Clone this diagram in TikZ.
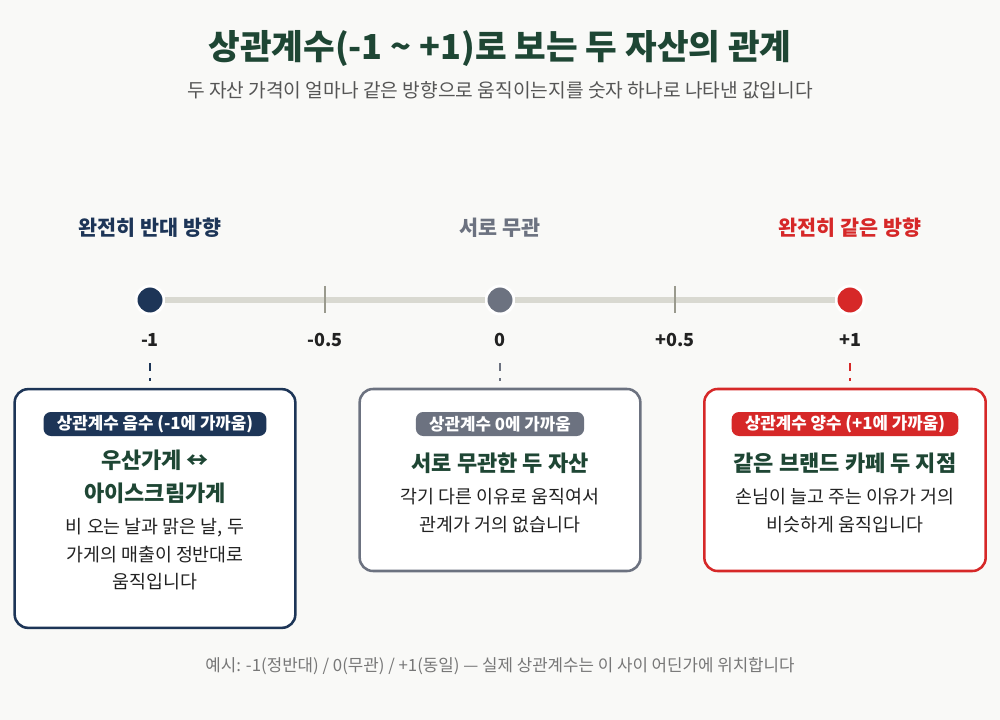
\documentclass[tikz,border=0pt]{standalone}
\usepackage{fontspec}
\setmainfont{Noto Sans CJK KR}
\usetikzlibrary{positioning}

\definecolor{pagebg}{HTML}{F9F9F7}
\definecolor{titlegreen}{HTML}{1E4634}
\definecolor{navy}{HTML}{1D3557}
\definecolor{slate}{HTML}{6C7280}
\definecolor{crimson}{HTML}{D62828}
\definecolor{axisgray}{HTML}{D9D9D1}
\definecolor{tickgray}{HTML}{9A9A8E}
\definecolor{bodytext}{HTML}{222222}
\definecolor{subgray}{HTML}{555555}
\definecolor{footgray}{HTML}{777777}

\tikzset{
  sidelabel/.style={font=\fontsize{15.5}{18}\selectfont\bfseries},
  dot/.style={circle, draw=white, line width=2.2pt, minimum size=21pt, inner sep=0pt},
  ticklabel/.style={font=\fontsize{13.5}{16}\selectfont\bfseries, text=bodytext},
  tickmark/.style={tickgray, line width=1.6pt},
  card/.style={draw, fill=white, rounded corners=10pt, line width=1.9pt},
  pill/.style={rounded corners=5.5pt, minimum height=18pt, inner xsep=10pt, inner ysep=0pt,
    text=white, font=\fontsize{12.6}{13}\selectfont\bfseries},
  cardhead/.style={align=center, text=titlegreen, font=\fontsize{16.5}{24.5}\selectfont\bfseries},
  cardbody/.style={align=center, text=bodytext, font=\fontsize{13.8}{20.6}\selectfont},
  leader/.style={line width=1.5pt, dash pattern=on 6pt off 5pt, shorten <=9pt, shorten >=5pt}
}

\begin{document}
\begin{tikzpicture}[x=0.75pt,y=-0.75pt]
\fill[pagebg] (0,0) rectangle (1000,720);

% heading
\node[font=\fontsize{25.8}{30}\selectfont\bfseries, text=titlegreen] (title) at (500,48)
  {상관계수(-1 \textasciitilde{} +1)로 보는 두 자산의 관계};
\node[font=\fontsize{14.4}{17}\selectfont, text=subgray] (subtitle) at (500,90)
  {두 자산 가격이 얼마나 같은 방향으로 움직이는지를 숫자 하나로 나타낸 값입니다};

% ends of the scale
\node[sidelabel, text=navy] (oppos) at (150,228) {완전히 반대 방향};
\node[sidelabel, text=slate] (indep) at (500,228) {서로 무관};
\node[sidelabel, text=crimson] (same) at (850,228) {완전히 같은 방향};

% scale
\node[dot, fill=navy] (dotN) at (150,300) {};
\node[dot, fill=slate] (dotZ) at (500,300) {};
\node[dot, fill=crimson] (dotP) at (850,300) {};
\draw[axisgray, line width=4.5pt] (dotN) -- (dotZ);
\draw[axisgray, line width=4.5pt] (dotZ) -- (dotP);
\draw[tickmark] (325,286) -- (325,313);
\draw[tickmark] (675,286) -- (675,313);

\node[ticklabel] (tN) at (150,340) {-1};
\node[ticklabel] (tNh) at (325,340) {-0.5};
\node[ticklabel] (tZ) at (500,340) {0};
\node[ticklabel] (tPh) at (675,340) {+0.5};
\node[ticklabel] (tP) at (850,340) {+1};

% cards
\node[card, draw=navy, minimum width=210.5pt, minimum height=179pt] (cardN) at (155,508.5) {};
\node[card, draw=slate, minimum width=210.5pt, minimum height=136.5pt] (cardZ) at (500,480) {};
\node[card, draw=crimson, minimum width=211pt, minimum height=136.5pt] (cardP) at (845,480) {};

\draw[leader, navy] (tN.south) -- (tN.south |- cardN.north);
\draw[leader, slate] (tZ.south) -- (tZ.south |- cardZ.north);
\draw[leader, crimson] (tP.south) -- (tP.south |- cardP.north);

\node[pill, fill=navy] (pillN) at (155,424) {상관계수 음수 (-1에 가까움)};
\node[cardhead] (headN) at (155,476.5) {우산가게 ↔\\아이스크림가게};
\node[cardbody] (bodyN) at (155,554.5) {비 오는 날과 맑은 날, 두\\가게의 매출이 정반대로\\움직입니다};

\node[pill, fill=slate] (pillZ) at (500,424) {상관계수 0에 가까움};
\node[cardhead] (headZ) at (500,463) {서로 무관한 두 자산};
\node[cardbody] (bodyZ) at (500,510.5) {각기 다른 이유로 움직여서\\관계가 거의 없습니다};

\node[pill, fill=crimson] (pillP) at (845,424) {상관계수 양수 (+1에 가까움)};
\node[cardhead] (headP) at (845,463) {같은 브랜드 카페 두 지점};
\node[cardbody] (bodyP) at (845,510.5) {손님이 늘고 주는 이유가 거의\\비슷하게 움직입니다};

% footnote
\node[font=\fontsize{12.6}{14}\selectfont, text=footgray] (foot) at (500,666)
  {예시: -1(정반대) / 0(무관) / +1(동일) — 실제 상관계수는 이 사이 어딘가에 위치합니다};
\end{tikzpicture}
\end{document}
